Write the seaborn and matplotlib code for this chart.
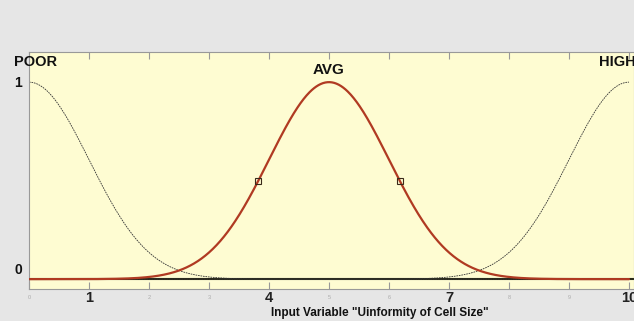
import numpy as np
import pandas as pd
import matplotlib
matplotlib.use("Agg")
import matplotlib.pyplot as plt
import seaborn as sns

# Membership function parameters (Gaussian MFs)
mf_names = ["POOR", "AVG", "HIGH"]
mf_centers = [0.0, 5.0, 10.0]
mf_sigmas = [1.0, 1.0, 1.0]
x_ticks = [0, 1, 2, 3, 4, 5, 6, 7, 8, 9, 10]
bold_ticks = [1, 4, 7, 10]
half_points = [3.82, 6.18]
half_values = [0.5, 0.5]

sns.set_style("white")
plt.rcParams['font.family'] = ['Liberation Sans Narrow', 'Liberation Sans', 'DejaVu Sans']

x = np.linspace(0, 10, 801)
frames = []
for n, c, s in zip(mf_names, mf_centers, mf_sigmas):
    frames.append(pd.DataFrame({"x": x, "mu": np.exp(-(x - c) ** 2 / (2 * s ** 2)), "mf": n}))
df = pd.concat(frames, ignore_index=True)

fig = plt.figure(figsize=(6.34, 3.21), dpi=100, facecolor="#e6e6e6")
ax = fig.add_axes([29 / 634, 32 / 321, 605 / 634, 237 / 321])
ax.set_facecolor("#fefcd2")

ax.axhline(0, color="#2a2a1a", lw=1.5, zorder=1)
sns.lineplot(data=df[df.mf != "AVG"], x="x", y="mu", units="mf", estimator=None,
             color="#333333", lw=0.6, ls=(0, (2, 1)), ax=ax, zorder=2)
sns.lineplot(data=df[df.mf == "AVG"], x="x", y="mu", color="#b03a22", lw=1.6, ax=ax, zorder=3)
ax.plot(half_points, half_values, ls="none", marker="s", ms=4.5, mfc="none",
        mec="#3a2a1a", mew=0.8, zorder=4)

ax.set_xlim(0, 605 / 60)
ax.set_ylim(-0.05, 1.153)
ax.set_xlabel("")
ax.set_ylabel("")
ax.set_yticks([])
ax.set_xticks(x_ticks)
ax.set_xticklabels(["" if t in bold_ticks else str(t) for t in x_ticks], fontsize=4, color="#aaaaaa")
ax.tick_params(axis="x", direction="in", length=5, color="#999999", top=True, bottom=True, pad=4)
for sp in ax.spines.values():
    sp.set_color("#999999")
    sp.set_linewidth(0.8)

for t in bold_ticks:
    ax.text(t, -0.062, str(t), transform=ax.transData, ha="center", va="top",
            fontsize=10.5, fontweight="bold", color="#222222", clip_on=False)

fig.text(14 / 634, 1 - 62 / 321, "POOR", fontsize=10.5, fontweight="bold", va="center", ha="left", color="#111111")
fig.text(329 / 634, 1 - 70 / 321, "AVG", fontsize=11, fontweight="bold", va="center", ha="center", color="#111111")
fig.text(599 / 634, 1 - 62 / 321, "HIGH", fontsize=10.5, fontweight="bold", va="center", ha="left", color="#111111")
fig.text(14 / 634, 1 - 83 / 321, "1", fontsize=10, fontweight="bold", va="center", ha="left", color="#111111")
fig.text(14 / 634, 1 - 270 / 321, "0", fontsize=10, fontweight="bold", va="center", ha="left", color="#111111")
fig.text(380 / 634, 1 - 313 / 321, "Input Variable \"Uinformity of Cell Size\"", fontsize=8.5,
         fontweight="bold", va="center", ha="center", color="#111111")

fig.savefig("out.png", dpi=100, facecolor=fig.get_facecolor())
